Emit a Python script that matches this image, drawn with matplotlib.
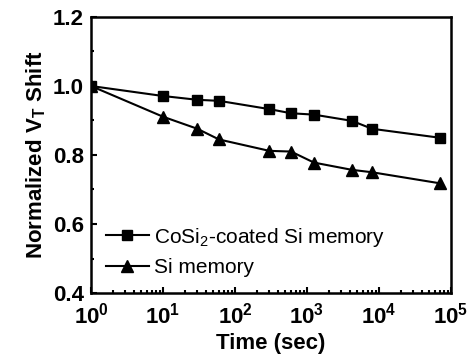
import matplotlib
matplotlib.use("Agg")
import matplotlib.pyplot as plt
from matplotlib.ticker import LogLocator, MultipleLocator

# data
time_sec = [1, 10, 30, 60, 300, 600, 1250, 4200, 8000, 70000]
cosi2_vals = [1.0, 0.971, 0.960, 0.957, 0.933, 0.921, 0.917, 0.899, 0.876, 0.850]
si_vals = [1.0, 0.911, 0.876, 0.845, 0.812, 0.810, 0.778, 0.757, 0.750, 0.718]

plt.rcParams['font.family'] = ['Liberation Sans', 'DejaVu Sans']
plt.rcParams['mathtext.fontset'] = 'custom'
plt.rcParams['mathtext.rm'] = 'Liberation Sans'
plt.rcParams['mathtext.bf'] = 'Liberation Sans:bold'
plt.rcParams['mathtext.it'] = 'Liberation Sans:italic'

fig = plt.figure(figsize=(4.69, 3.56), dpi=100)
ax = fig.add_axes([91/469, 1 - 293/356, (451 - 91)/469, (293 - 17)/356])

ax.plot(time_sec, cosi2_vals, color='black', lw=1.5, marker='s', ms=7,
        label='CoSi$_2$-coated Si memory')
ax.plot(time_sec, si_vals, color='black', lw=1.5, marker='^', ms=9,
        label='Si memory')

ax.set_xscale('log')
ax.set_xlim(1, 1e5)
ax.set_ylim(0.4, 1.2)
ax.yaxis.set_major_locator(MultipleLocator(0.2))
ax.yaxis.set_minor_locator(MultipleLocator(0.1))
ax.xaxis.set_major_locator(LogLocator(base=10, numticks=10))
ax.xaxis.set_minor_locator(LogLocator(base=10, subs=range(2, 10), numticks=20))

ax.tick_params(which='both', direction='in', top=False, right=False, width=1.5)
ax.tick_params(which='major', length=4, labelsize=16, pad=5)
ax.tick_params(axis='x', which='major', pad=7)
ax.tick_params(which='minor', length=2.5)
for lab in ax.get_xticklabels() + ax.get_yticklabels():
    lab.set_fontweight('bold')

for s in ax.spines.values():
    s.set_linewidth(1.8)

ax.set_xlabel('Time (sec)', fontsize=16, fontweight='bold', labelpad=3)
ax.set_ylabel('Normalized V$_\\mathbf{T}$ Shift', fontsize=16, fontweight='bold', labelpad=4)

ax.legend(loc='lower left', bbox_to_anchor=(0.0, 0.005), frameon=False,
          fontsize=15, handlelength=2.1, handletextpad=0.2, labelspacing=0.45,
          borderaxespad=0.3)

fig.savefig('out.png', dpi=100)
